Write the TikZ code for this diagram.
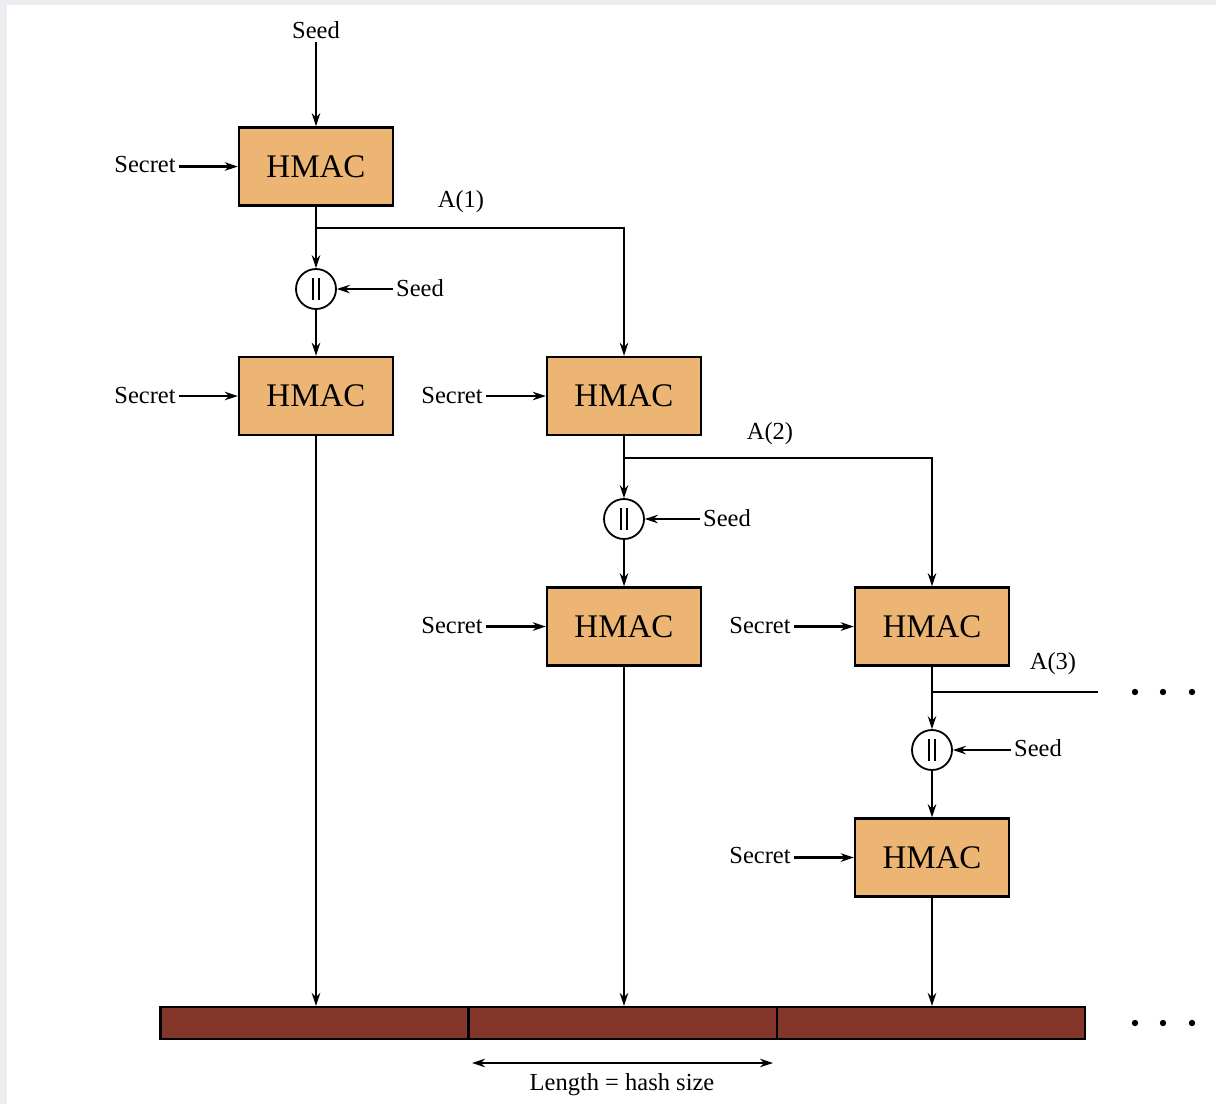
\documentclass[tikz,border=0pt]{standalone}
\usepackage{fontspec}
\setmainfont{Liberation Serif}
\usetikzlibrary{arrows.meta}
\definecolor{hmacfill}{RGB}{237,181,116}
\definecolor{outbar}{RGB}{133,54,42}
\definecolor{frame}{RGB}{236,237,240}
\tikzset{
  hmac/.style={draw, line width=2.4pt, fill=hmacfill, minimum width=154pt,
    minimum height=78pt, inner sep=0pt, font=\fontsize{33}{38}\selectfont},
  lbl/.style={font=\fontsize{24.5}{28}\selectfont, inner sep=3pt},
  concat/.style={draw, circle, line width=1.8pt, fill=white, minimum size=40pt,
    inner sep=0pt, path picture={
      \draw[line width=1.5pt] ([xshift=-2.8pt,yshift=-11pt]path picture bounding box.center) -- ++(0,22pt);
      \draw[line width=1.5pt] ([xshift=2.8pt,yshift=-11pt]path picture bounding box.center) -- ++(0,22pt);
    }},
  segment/.style={draw, line width=2.2pt, fill=outbar, minimum width=308pt,
    minimum height=32pt, inner sep=0pt},
  flow/.style={line width=2.1pt, -{Stealth[length=13pt,width=8.5pt]}},
  link/.style={line width=2.1pt},
  dot/.style={fill=black},
}
\begin{document}
\begin{tikzpicture}[x=1pt,y=-1pt]
  \useasboundingbox (0,0) rectangle (1216,1104);
  \fill[frame] (0,0) rectangle (1216,1104);
  \fill[white] (7,5) rectangle (1216,1104);

  % HMAC stages
  \node[hmac] (h1) at (316,166.5) {HMAC};
  \node[hmac] (h2) at (316,396) {HMAC};
  \node[hmac] (h3) at (624,396) {HMAC};
  \node[hmac] (h4) at (624,626.5) {HMAC};
  \node[hmac] (h5) at (932,626.5) {HMAC};
  \node[hmac] (h6) at (932,857.5) {HMAC};

  % concatenation points
  \node[concat] (c1) at (316,289) {};
  \node[concat] (c2) at (624,519) {};
  \node[concat] (c3) at (932,750) {};

  % inputs
  \node[lbl] (seed0) at (316,30) {Seed};
  \node[lbl] (k1) at (145,165) {Secret};
  \node[lbl] (k2) at (145,395) {Secret};
  \node[lbl] (k3) at (452,395) {Secret};
  \node[lbl] (k4) at (452,625) {Secret};
  \node[lbl] (k5) at (760,625) {Secret};
  \node[lbl] (k6) at (760,855) {Secret};
  \node[lbl] (sd1) at (420,288) {Seed};
  \node[lbl] (sd2) at (727,518) {Seed};
  \node[lbl] (sd3) at (1038,748) {Seed};
  \node[lbl] (a1) at (461,202) {A(1)};
  \node[lbl] (a2) at (770,434) {A(2)};
  \node[lbl] (a3) at (1053,664) {A(3)};

  % output blocks
  \node[segment] (o1) at (314.5,1023) {};
  \node[segment] (o2) at (623,1023) {};
  \node[segment] (o3) at (931,1023) {};

  % branch points
  \coordinate (b1) at (316,228);
  \coordinate (b2) at (624,458);
  \coordinate (b3) at (932,692);
  \coordinate (e3) at (1098,692);

  \draw[flow] (seed0) -- (h1.north);
  \foreach \k/\h in {k1/h1,k2/h2,k3/h3,k4/h4,k5/h5,k6/h6}
    \draw[flow] (\h.west -| \k.east) -- (\h.west);
  \foreach \s/\c in {sd1/c1,sd2/c2,sd3/c3}
    \draw[flow] (\c.east -| \s.west) -- (\c.east);

  \draw[link] (h1.south) -- (b1);
  \draw[flow] (b1) -- (c1);
  \draw[flow] (b1) -| (h3.north);
  \draw[flow] (c1) -- (h2.north);

  \draw[link] (h3.south) -- (b2);
  \draw[flow] (b2) -- (c2);
  \draw[flow] (b2) -| (h5.north);
  \draw[flow] (c2) -- (h4.north);

  \draw[link] (h5.south) -- (b3);
  \draw[flow] (b3) -- (c3);
  \draw[link] (b3) -- (e3);
  \draw[flow] (c3) -- (h6.north);

  \draw[flow] (h2.south) -- (h2.south |- o1.north);
  \draw[flow] (h4.south) -- (h4.south |- o2.north);
  \draw[flow] (h6.south) -- (h6.south |- o3.north);

  % continuation marks
  \foreach \x in {1135,1163,1192} {
    \fill[dot] (\x,692) circle (3.2pt);
    \fill[dot] (\x,1023) circle (3.2pt);
  }

  % block length
  \coordinate (la) at (472,1063);
  \coordinate (lb) at (773,1063);
  \draw[line width=2.1pt, {Stealth[length=13pt,width=8.5pt]}-{Stealth[length=13pt,width=8.5pt]}] (la) -- (lb);
  \node[lbl] (len) at (622,1085) {Length = hash size};
\end{tikzpicture}
\end{document}
